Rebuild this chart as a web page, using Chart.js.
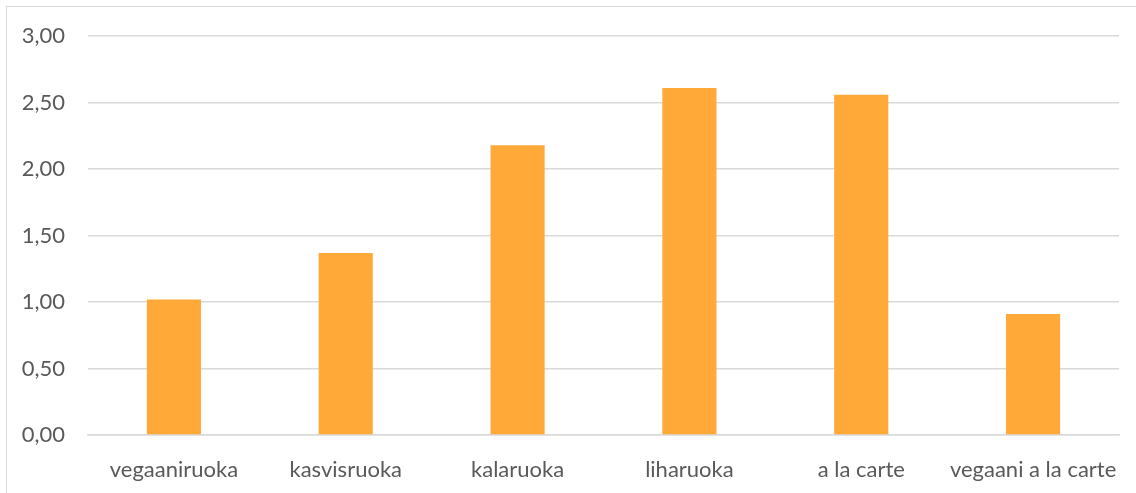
<!DOCTYPE html>
<html>
<head>
<meta charset="utf-8">
<script src="https://cdn.jsdelivr.net/npm/chart.js@4"></script>
<style>
  html, body { margin: 0; padding: 0; background: #fff; overflow: hidden; }
  #wrap { position: relative; width: 1136px; height: 493px; overflow: hidden; }
  #frame { position: absolute; left: 6px; top: 6px; width: 1150px; height: 500px; border: 1px solid #d9d9d9; box-sizing: border-box; }
  canvas { position: absolute; left: 0; top: 0; }
</style>
</head>
<body>
<div id="wrap">
  <div id="frame"></div>
  <canvas id="chart" width="1136" height="493"></canvas>
</div>
<script>
const categories = ['vegaaniruoka', 'kasvisruoka', 'kalaruoka', 'liharuoka', 'a la carte', 'vegaani a la carte'];
const values = [1.02, 1.37, 2.18, 2.61, 2.56, 0.91];
const yTicks = [0, 0.5, 1, 1.5, 2, 2.5, 3];

const ctx = document.getElementById('chart').getContext('2d');
new Chart(ctx, {
    type: 'bar',
    data: {
        labels: categories,
        datasets: [{
            data: values,
            backgroundColor: '#FFA939',
            borderWidth: 0,
            barPercentage: 0.63,
            categoryPercentage: 0.5,
        }]
    },
    options: {
        responsive: false,
        animation: false,
        layout: { padding: { top: 35, right: 17, left: 0, bottom: 0 } },
        plugins: { legend: { display: false }, tooltip: { enabled: false } },
        scales: {
            x: {
                grid: { display: false },
                border: { color: '#d9d9d9', width: 1.5 },
                ticks: {
                    color: '#595959',
                    font: { family: 'Lato', size: 22 },
                    padding: 14,
                    maxRotation: 0,
                },
                afterFit: (axis) => { axis.height = 58; }
            },
            y: {
                min: 0,
                max: 3,
                afterBuildTicks: (axis) => { axis.ticks = yTicks.map(v => ({ value: v })); },
                grid: { color: '#d9d9d9', lineWidth: 1.5, drawTicks: false },
                border: { display: false },
                ticks: {
                    color: '#595959',
                    font: { family: 'Lato', size: 22 },
                    padding: 23,
                    callback: (v) => Number(v).toFixed(2).replace('.', ','),
                },
                afterFit: (axis) => { axis.width = 88; }
            }
        }
    }
});
</script>
</body>
</html>
